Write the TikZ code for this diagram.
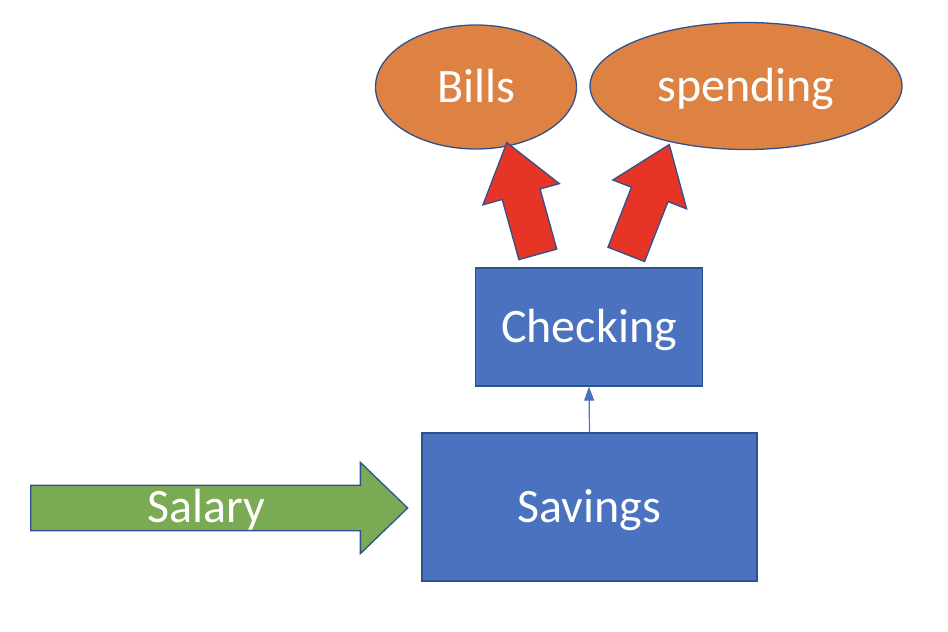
\documentclass[tikz,border=0pt]{standalone}
\usepackage{fontspec}
\setmainfont{Carlito}
\usetikzlibrary{arrows.meta, positioning, shapes.geometric, shapes.arrows}

\definecolor{outline}{RGB}{47,82,143}
\definecolor{boxblue}{RGB}{74,114,190}
\definecolor{ovalorange}{RGB}{222,130,68}
\definecolor{arrowgreen}{RGB}{122,170,84}
\definecolor{arrowred}{RGB}{230,52,38}

\begin{document}
\begin{tikzpicture}[
  x=1pt, y=-1pt,
  word/.style={font=\fontsize{48}{56}\selectfont, text=white, text height=30pt, text depth=0pt},
  oval/.style={ellipse, word, draw=outline, fill=ovalorange, line width=1.3pt, inner sep=0pt},
  account/.style={rectangle, word, draw=outline, fill=boxblue, line width=1.3pt, inner sep=0pt},
  flow/.style={single arrow, draw=outline, line width=1.3pt, inner xsep=0pt, anchor=tail},
  link/.style={-{Triangle[length=14pt, width=10pt]}, draw=boxblue, line width=1.2pt}
]
\useasboundingbox (0,0) rectangle (948,632);

\node[oval, minimum width=201pt, minimum height=124pt] (bills) at (476,87) {Bills};
\node[oval, minimum width=312pt, minimum height=127pt] (spending) at (746,86) {spending};

\node[account, minimum width=227pt, minimum height=118pt] (checking) at (589,327) {Checking};
\node[account, minimum width=335pt, minimum height=148pt] (savings) at (589.5,507) {Savings};

% money going out
\node[flow, fill=arrowred, minimum height=116pt, inner ysep=19pt, single arrow head extend=20pt,
  single arrow tip angle=73, rotate=105.5] (tobills) at (538,255) {};
\node[flow, fill=arrowred, minimum height=118pt, inner ysep=19pt, single arrow head extend=20pt,
  single arrow tip angle=73, rotate=68.6] (tospending) at (626,255) {};

% money coming in
\node[flow, fill=arrowgreen, minimum height=377pt, inner ysep=22pt, single arrow head extend=23pt,
  single arrow tip angle=88] (income) at (30,508) {};
\node[word] (salary) at (206,507) {Salary};

\draw[link] (savings.north) -- (checking.south);
\end{tikzpicture}
\end{document}
